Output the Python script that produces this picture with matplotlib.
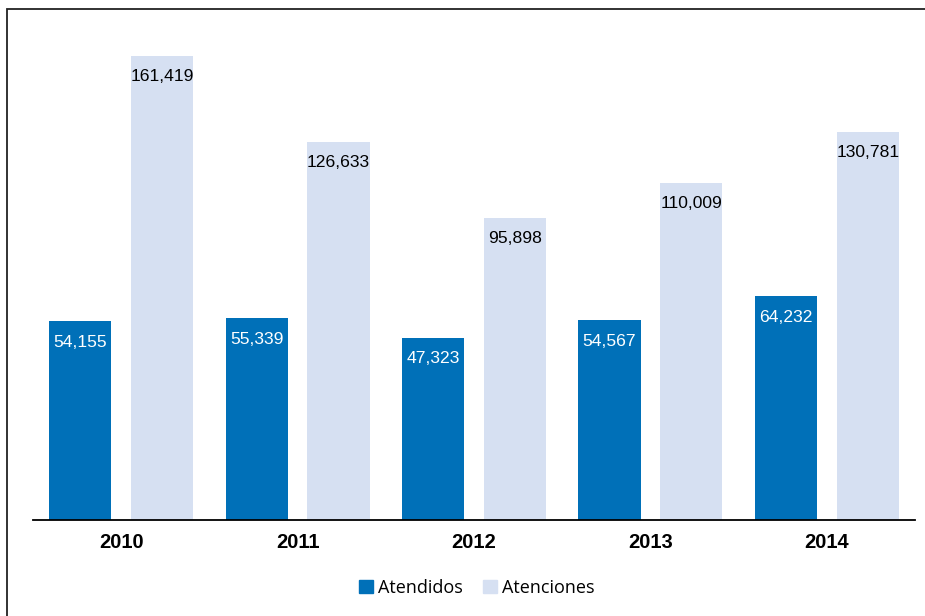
import numpy as np
import matplotlib
matplotlib.use('Agg')
import matplotlib.pyplot as plt
from matplotlib.patches import Rectangle, Patch

years = ['2010', '2011', '2012', '2013', '2014']
atendidos = [54155, 55339, 47323, 54567, 64232]
atenciones = [161419, 126633, 95898, 110009, 130781]

# value axis of the original does not start at zero
y_min = -26200
y_max = 171900

dark = '#0070B8'
light = '#D6E0F2'
num_font = ['Liberation Sans', 'DejaVu Sans']

fig = plt.figure(figsize=(9.25, 6.16), dpi=100)
ax = fig.add_axes([33 / 925, 96 / 616, 882 / 925, 490 / 616])

x = np.arange(len(years))
w = 0.352
off = 0.232
b1 = ax.bar(x - off, np.array(atendidos) - y_min, w, bottom=y_min, color=dark)
b2 = ax.bar(x + off, np.array(atenciones) - y_min, w, bottom=y_min, color=light)

for bars, vals, col in [(b1, atendidos, 'white'), (b2, atenciones, 'black')]:
    for r, v in zip(bars, vals):
        ax.annotate(f'{v:,}', (r.get_x() + r.get_width() / 2, r.get_y() + r.get_height()),
                    xytext=(0, -15), textcoords='offset points', ha='center', va='center',
                    color=col, fontsize=12.6, family=num_font)

ax.set_xlim(-0.5, len(years) - 0.5)
ax.set_ylim(y_min, y_max)
ax.set_xticks(x)
ax.set_xticklabels(years, fontsize=14.5, fontweight='bold', family=num_font)
ax.tick_params(axis='x', length=0, pad=9)
ax.set_yticks([])
for s in ['top', 'right', 'left']:
    ax.spines[s].set_visible(False)
ax.spines['bottom'].set_linewidth(1.3)

handles = [Patch(color=dark, label='Atendidos'), Patch(color=light, label='Atenciones')]
fig.legend(handles=handles, loc='center', bbox_to_anchor=(477 / 925, 1 - 588 / 616), ncol=2,
           frameon=False, prop={'family': 'Open Sans', 'size': 13},
           handlelength=0.75, handleheight=0.75, handletextpad=0.3, columnspacing=1.1)

# outer frame of the chart
fig.patches.append(Rectangle((7 / 925, -0.1), 1.2, 1 - 9 / 616 + 0.1, transform=fig.transFigure,
                             fill=False, edgecolor='#222222', lw=1.3))

fig.savefig('out.png', dpi=100)
